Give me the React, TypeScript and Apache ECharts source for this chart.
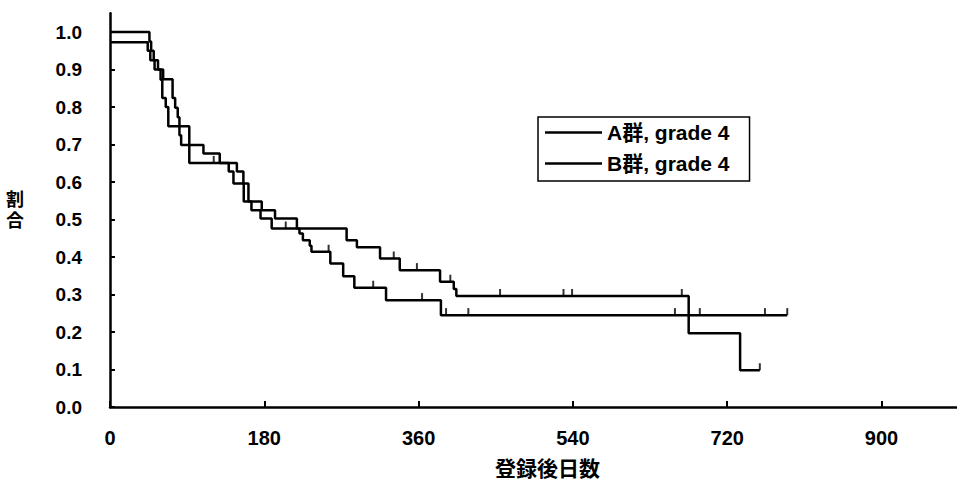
import React, { useEffect, useRef } from "react";
import * as echarts from "echarts";

// ---- data ----
const seriesNames = ["A群, grade 4", "B群, grade 4"];

// Kaplan–Meier steps: value after the drop at that day
const daysA = [0, 46, 48, 51, 56, 62, 73, 76, 79, 81, 83, 109, 128, 148, 155.6, 161.5, 177, 192.5, 218, 221, 225, 233, 235, 257, 272, 285, 322, 386, 790];
const survA = [1.0, 0.975, 0.95, 0.925, 0.9, 0.874, 0.824, 0.798, 0.773, 0.725, 0.699, 0.676, 0.651, 0.628, 0.596, 0.548, 0.525, 0.503, 0.476, 0.463, 0.445, 0.43, 0.414, 0.383, 0.349, 0.318, 0.285, 0.245, 0.245];
const censorA = [255, 307, 364, 392, 418, 659, 688, 764, 790];

const daysB = [0, 44, 47, 52, 59, 61, 65, 68, 92.5, 138.5, 144, 156, 165, 175.6, 188.6, 276, 288, 315, 338, 385, 401, 404, 675, 735, 758];
const survB = [0.973, 0.95, 0.925, 0.9, 0.873, 0.824, 0.8, 0.749, 0.651, 0.628, 0.596, 0.548, 0.525, 0.503, 0.476, 0.445, 0.426, 0.396, 0.365, 0.334, 0.315, 0.296, 0.197, 0.098, 0.098];
const censorB = [121, 205, 331, 358, 397, 455, 529, 539, 667, 758];

const xTicks = [0, 180, 360, 540, 720, 900];
const yTicks = [0, 0.1, 0.2, 0.3, 0.4, 0.5, 0.6, 0.7, 0.8, 0.9, 1.0];
const xMax = 988;
const yMax = 1.05;

const xName = "登録後日数";
const yName = "割\n合";

const FONT = "'Liberation Sans', 'Noto Sans CJK JP', sans-serif";

function valueAt(days: number[], surv: number[], d: number): number {
  let v = surv[0];
  for (let i = 0; i < days.length; i++) {
    if (days[i] <= d) v = surv[i];
  }
  return v;
}

export default function App() {
  const ref = useRef<HTMLDivElement>(null);
  useEffect(() => {
    if (!ref.current) return;
    const chart = echarts.init(ref.current, undefined, { renderer: "svg" });
    const lineA = daysA.map((d, i) => [d, survA[i]]);
    const lineB = daysB.map((d, i) => [d, survB[i]]);
    const cA = censorA.map((d) => [d, valueAt(daysA, survA, d)]);
    const cB = censorB.map((d) => [d, valueAt(daysB, survB, d)]);
    const censorStyle = {
      type: "scatter" as const,
      symbol: "rect",
      symbolSize: [2, 7],
      symbolOffset: [0, -3.5],
      itemStyle: { color: "#000" },
      silent: true,
      z: 3,
    };
    chart.setOption({
      animation: false,
      backgroundColor: "#fff",
      textStyle: { fontFamily: FONT },
      grid: { left: 110, right: 0, top: 13.25, bottom: 79 },
      legend: {
        data: seriesNames,
        orient: "vertical",
        left: 538,
        top: 117,
        icon: "rect",
        itemWidth: 57,
        itemHeight: 2.5,
        itemGap: 10,
        padding: [5, 20, 7, 7],
        borderColor: "#000",
        borderWidth: 1.5,
        borderRadius: 0,
        backgroundColor: "#fff",
        textStyle: {
          fontFamily: FONT,
          fontWeight: "bold",
          fontSize: 21,
          lineHeight: 20,
          color: "#000",
        },
        selectedMode: false,
      },
      xAxis: {
        type: "value",
        min: 0,
        max: xMax,
        interval: 180,
        name: xName,
        nameLocation: "middle",
        nameGap: 51,
        nameTextStyle: {
          fontFamily: FONT,
          fontWeight: "bold",
          fontSize: 21,
          color: "#000",
          padding: [0, 0, 0, 28],
        },
        axisLine: { show: true, lineStyle: { color: "#000", width: 2.5 } },
        axisTick: { show: true, inside: true, length: 6, lineStyle: { color: "#000", width: 2 }, customValues: xTicks },
        axisLabel: {
          fontFamily: FONT,
          fontWeight: "bold",
          fontSize: 20,
          color: "#000",
          margin: 21,
          customValues: xTicks,
        },
        splitLine: { show: false },
      },
      yAxis: {
        type: "value",
        min: 0,
        max: yMax,
        interval: 0.1,
        name: yName,
        nameLocation: "middle",
        nameRotate: 0,
        nameGap: 86,
        nameTextStyle: {
          fontFamily: FONT,
          fontWeight: "bold",
          fontSize: 18,
          lineHeight: 21,
          color: "#000",
        },
        axisLine: { show: true, lineStyle: { color: "#000", width: 2.5 } },
        axisTick: { show: true, inside: true, length: 5, lineStyle: { color: "#000", width: 2 }, customValues: yTicks },
        axisLabel: {
          fontFamily: FONT,
          fontWeight: "bold",
          fontSize: 19,
          color: "#000",
          margin: 28,
          customValues: yTicks,
          formatter: (v: number) => v.toFixed(1),
        },
        splitLine: { show: false },
      },
      series: [
        {
          name: seriesNames[0],
          type: "line",
          step: "end",
          data: lineA,
          symbol: "none",
          lineStyle: { color: "#000", width: 2.5 },
          itemStyle: { color: "#000" },
        },
        {
          name: seriesNames[1],
          type: "line",
          step: "end",
          data: lineB,
          symbol: "none",
          lineStyle: { color: "#000", width: 2.5 },
          itemStyle: { color: "#000" },
        },
        { ...censorStyle, name: "censorA", data: cA },
        { ...censorStyle, name: "censorB", data: cB },
      ],
    });
    return () => chart.dispose();
  }, []);
  return (
    <div
      ref={ref}
      style={{ position: "fixed", left: 0, top: 0, width: 957, height: 486, background: "#fff" }}
    />
  );
}
